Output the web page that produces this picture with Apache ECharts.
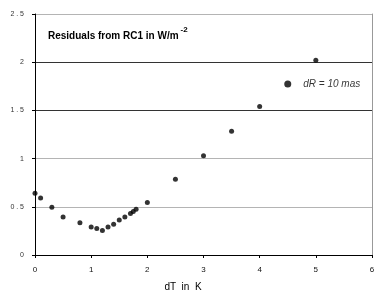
<!DOCTYPE html>
<html><head><meta charset="utf-8">
<script src="https://cdn.jsdelivr.net/npm/echarts@6/dist/echarts.min.js"></script>
<style>html,body{margin:0;padding:0;background:#fff}#c{width:381px;height:300px}</style>
</head><body><div id="c"></div>
<script>
const dT = [0, 0.1, 0.3, 0.5, 0.8, 1.0, 1.1, 1.2, 1.3, 1.4, 1.5, 1.6, 1.7, 1.75, 1.8, 2.0, 2.5, 3.0, 3.5, 4.0, 4.5, 5.0];
const residuals = [0.64, 0.59, 0.495, 0.395, 0.335, 0.29, 0.275, 0.255, 0.29, 0.32, 0.362, 0.395, 0.43, 0.45, 0.474, 0.545, 0.785, 1.03, 1.285, 1.54, 1.775, 2.02];
const legendIndex = 20;
const legendText = 'dR = 10 mas';
const titleText = 'Residuals from RC1 in W/m';
const xName = 'dT  in  K';
const xTicks = [0, 1, 2, 3, 4, 5, 6];
const yTicks = [0, 0.5, 1, 1.5, 2, 2.5];

const chart = echarts.init(document.getElementById('c'), null, {renderer: 'canvas'});
const font = 'Liberation Sans, Arial, sans-serif';
const data = dT.map((x, i) => {
  const d = {value: [x, residuals[i]]};
  if (i === legendIndex) {
    d.symbolSize = 7;
    d.label = {show: true, position: 'right', distance: 12, formatter: legendText,
      fontFamily: font, fontSize: 10, fontStyle: 'italic', color: '#000'};
  }
  return d;
});
chart.setOption({
  animation: false,
  grid: {left: 35, right: 9, top: 14, bottom: 45},
  title: {
    text: '{a|' + titleText + '}{s|-2}',
    left: 43, top: 21,
    textStyle: {rich: {
      a: {fontFamily: font, fontSize: 10, fontWeight: 'bold', color: '#000', verticalAlign: 'bottom', lineHeight: 15},
      s: {fontFamily: font, fontSize: 8, fontWeight: 'bold', color: '#000', verticalAlign: 'top', lineHeight: 15, padding: [0, 0, 0, 2]}
    }}
  },
  graphic: [{
    type: 'text', x: 183, y: 287,
    style: {text: xName, fontFamily: font, fontSize: 10, fill: '#000', textAlign: 'center', textVerticalAlign: 'middle'}
  }],
  xAxis: {
    type: 'value', min: 0, max: 6, interval: 1,
    axisLine: {lineStyle: {color: '#000', width: 1}},
    axisTick: {show: true, length: 3, lineStyle: {color: '#000'}},
    axisLabel: {fontFamily: font, fontSize: 8, color: '#111', margin: 11,
      formatter: v => xTicks.includes(v) ? String(v) : ''},
    splitLine: {show: false}
  },
  yAxis: [{
    type: 'value', min: 0, max: 2.5, interval: 0.5,
    axisLine: {show: true, lineStyle: {color: '#000', width: 1}},
    axisTick: {show: true, length: 3, lineStyle: {color: '#000'}},
    axisLabel: {fontFamily: font, fontSize: 7, color: '#333', margin: 11,
      formatter: v => yTicks.includes(v) ? String(v).replace('.', ' . ') : ''},
    splitLine: {show: true, lineStyle: {color: ['#000', '#b4b4b4', '#b4b4b4', '#333', '#333', '#b4b4b4'], width: 1}}
  }, {
    type: 'value', min: 0, max: 2.5, interval: 0.5, position: 'right',
    axisLine: {show: true, lineStyle: {color: '#999', width: 1}},
    axisTick: {show: false}, axisLabel: {show: false}, splitLine: {show: false}
  }],
  series: [{
    type: 'scatter', data: data, symbol: 'circle', symbolSize: 5,
    itemStyle: {color: '#000'}
  }]
});
</script></body></html>
